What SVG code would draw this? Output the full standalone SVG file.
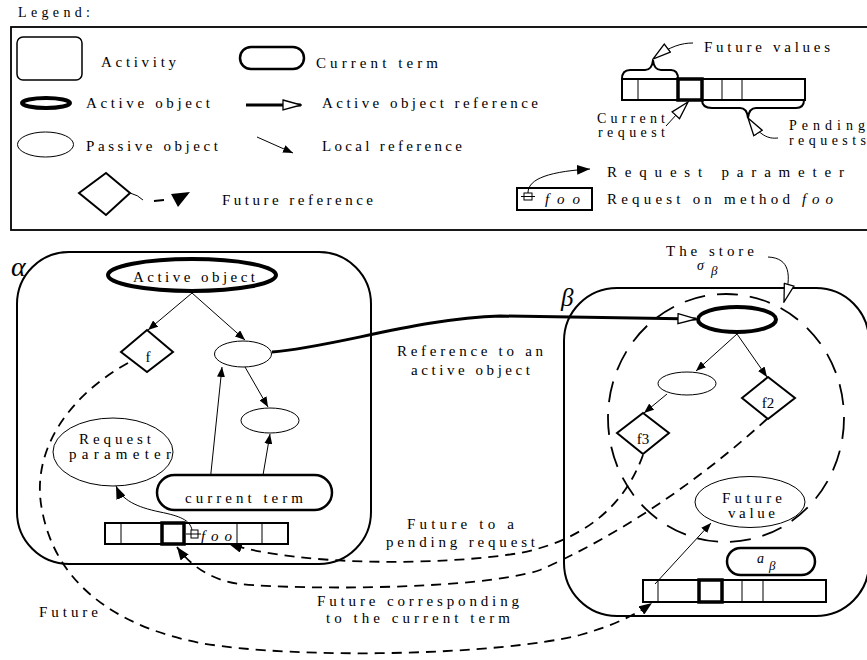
<svg xmlns="http://www.w3.org/2000/svg" width="867" height="660" viewBox="0 0 867 660" font-family="'Liberation Serif', serif">
<style>
.t{font-family:'Liberation Serif',serif;font-size:15px;fill:#000}
.s{font-size:14px}
.it{font-style:italic}
.m{text-anchor:middle}
.ln{fill:none;stroke:#000;stroke-width:1}
.box{fill:none;stroke:#000;stroke-width:2}
.act{fill:#fff;stroke:#000;stroke-width:4}
.pas{fill:#fff;stroke:#000;stroke-width:1}
.dia{fill:#fff;stroke:#000;stroke-width:2}
.cur{fill:#fff;stroke:#000;stroke-width:2.5}
.fut{fill:none;stroke:#000;stroke-width:1.8;stroke-dasharray:10 7}
.brace{fill:none;stroke:#000;stroke-width:2}
</style>
<defs>
<marker id="fa" viewBox="0 0 10 8" refX="10" refY="4" markerWidth="10" markerHeight="8" markerUnits="userSpaceOnUse" orient="auto"><path d="M0,0 L10,4 L0,8 z"/></marker>
<marker id="fh" viewBox="0 0 13 10" refX="13" refY="5" markerWidth="13" markerHeight="10" markerUnits="userSpaceOnUse" orient="auto"><path d="M0,0 L13,5 L0,10 z"/></marker>
<marker id="op" viewBox="0 0 20 12" refX="19" refY="6" markerWidth="20" markerHeight="12" markerUnits="userSpaceOnUse" orient="auto"><path d="M1,1 L19,6 L1,11 z" fill="#fff" stroke="#000" stroke-width="1.3"/></marker>
</defs>

<text class="t s" x="18" y="17" textLength="72" lengthAdjust="spacing">Legend:</text>

<g id="legend">
<rect x="11" y="27" width="860" height="203" fill="none" stroke="#000" stroke-width="1.8"/>
<rect x="17" y="37" width="65" height="43" rx="6" fill="#fff" stroke="#000" stroke-width="1.5"/>
<text class="t" x="101" y="67" textLength="75" lengthAdjust="spacing">Activity</text>
<rect x="240" y="47" width="64" height="22" rx="11" class="cur"/>
<text class="t" x="316" y="68" textLength="122" lengthAdjust="spacing">Current term</text>
<ellipse cx="46" cy="103" rx="24" ry="5" class="act"/>
<text class="t" x="86" y="108" textLength="124" lengthAdjust="spacing">Active object</text>
<path d="M246,105 L301,105" fill="none" stroke="#000" stroke-width="3" marker-end="url(#op)"/>
<text class="t" x="322" y="108" textLength="216" lengthAdjust="spacing">Active object reference</text>
<ellipse cx="45.5" cy="144.5" rx="28" ry="12.5" class="pas"/>
<text class="t" x="86" y="151" textLength="132" lengthAdjust="spacing">Passive object</text>
<path d="M257,137 L293,153" class="ln" marker-end="url(#fa)"/>
<text class="t" x="322" y="151" textLength="140" lengthAdjust="spacing">Local reference</text>
<polygon points="79,193 106,173 130,193 106,215" class="dia"/>
<path d="M130,193 Q138,195 143,200" class="ln" stroke-width="1.5"/>
<path d="M154,201 L164,200" fill="none" stroke="#000" stroke-width="2"/>
<polygon points="171,194 190,192 178,207"/>
<text class="t" x="222" y="205" textLength="151" lengthAdjust="spacing">Future reference</text>

<rect x="622" y="79" width="183" height="21" class="box"/>
<path d="M638,79 V100 M722,79 V100 M742,79 V100" class="ln"/>
<rect x="678" y="79" width="24" height="21" fill="none" stroke="#000" stroke-width="3.5"/>
<path d="M622,79 Q622,70 630,70 L645,70 Q652,70 653,60 Q654,70 661,70 L671,70 Q678,70 678,79" class="brace"/>
<path d="M702,100 Q702,108 712,108 L740,108 Q747,108 748,118 Q749,108 756,108 L796,108 Q804,108 804,100" class="brace"/>
<path d="M693,43 C 682,43 670,46 653,59" class="ln" marker-end="url(#op)"/>
<text class="t" x="704" y="52" textLength="126" lengthAdjust="spacing">Future values</text>
<path d="M666,126 L688,102" class="ln" marker-end="url(#op)"/>
<text class="t s" x="597" y="123" textLength="68" lengthAdjust="spacing">Current</text>
<text class="t s" x="598" y="137" textLength="67" lengthAdjust="spacing">request</text>
<path d="M778,138 C 768,139 760,136 748,118" class="ln" marker-end="url(#op)"/>
<text class="t s" x="789" y="130" textLength="76" lengthAdjust="spacing">Pending</text>
<text class="t s" x="789" y="145" textLength="77" lengthAdjust="spacing">requests</text>

<rect x="517" y="188" width="75" height="22" class="box"/>
<rect x="524" y="193" width="8" height="7" fill="#fff" stroke="#000" stroke-width="1"/>
<path d="M521,196.5 H535" class="ln"/>
<path d="M528,193 C 528,182 540,172 590,169" class="ln" stroke-width="1.3" marker-end="url(#fh)"/>
<text class="t it" x="545" y="204" textLength="35" lengthAdjust="spacing">foo</text>
<text class="t" x="607" y="177" textLength="237" lengthAdjust="spacing">Request parameter</text>
<text class="t" x="607" y="204" textLength="183" lengthAdjust="spacing">Request on method</text>
<text class="t it" x="802" y="204" textLength="31" lengthAdjust="spacing">foo</text>
</g>

<g id="alpha">
<rect x="17" y="252" width="354" height="312" rx="52" class="box"/>
<text class="t it" x="11" y="276" style="font-size:28px">α</text>
</g>

<g id="beta">
<rect x="564" y="288" width="305" height="328" rx="53" class="box"/>
<text class="t it" x="561" y="306" style="font-size:25px">β</text>
</g>

<g id="store">
<ellipse cx="726" cy="418" rx="118" ry="124" fill="none" stroke="#000" stroke-width="1.8" stroke-dasharray="21 12"/>
<text class="t" x="666" y="256" textLength="88" lengthAdjust="spacing">The store</text>
<text class="t it" x="697" y="270" style="font-size:14px">σ</text>
<text class="t it" x="711" y="275" style="font-size:13px">β</text>
</g>

<g id="connectors">
<path d="M192,293 L148,330" class="ln" marker-end="url(#fa)"/>
<path d="M192,293 L245,340" class="ln" marker-end="url(#fa)"/>
<path d="M245,367 L268,407" class="ln" marker-end="url(#fa)"/>
<path d="M210,482 L222,367" class="ln" marker-end="url(#fa)"/>
<path d="M262,481 L270,434" class="ln" marker-end="url(#fa)"/>
<path d="M192,530 C 190,520 180,516 160,512 C 136,507 122,500 116,486" class="ln" marker-end="url(#fh)"/>
<path d="M272,352 C 330,348 420,318 500,316 L 696,319" fill="none" stroke="#000" stroke-width="3" marker-end="url(#op)"/>
<path d="M737,334 L696,371" class="ln" marker-end="url(#fa)"/>
<path d="M737,334 L767,377" class="ln" marker-end="url(#fa)"/>
<path d="M667,394 L644,413" class="ln" marker-end="url(#fa)"/>
<path d="M655,584 L711,523" class="ln" marker-end="url(#fa)"/>
<path d="M768,257 C 790,258 792,275 784,302" class="ln" marker-end="url(#op)"/>
<path d="M128,363 C 70,395 30,450 42,510 C 55,580 110,625 200,643 C 300,660 500,655 580,635 C 615,625 635,615 652,603" class="fut" marker-end="url(#fh)"/>
<path d="M643,455 C 625,505 585,540 520,553 C 440,566 300,566 229,544" class="fut" marker-end="url(#fh)"/>
<path d="M767,419 C 700,480 620,535 540,570 C 480,590 300,590 240,584 C 210,580 190,565 177,547" class="fut" marker-end="url(#fh)"/>
</g>

<g id="alpha-active"><ellipse cx="192" cy="275" rx="84" ry="16" class="act"/>
<text class="t" x="133" y="282" textLength="122" lengthAdjust="spacing">Active object</text></g>
<g id="f"><polygon points="121,352 147,330 173,352 147,372" class="dia"/>
<text class="t m" x="148" y="362">f</text></g>
<g id="alpha-p1"><ellipse cx="243" cy="354" rx="28.5" ry="13" class="pas"/></g>
<g id="alpha-p2"><ellipse cx="270" cy="420.5" rx="29" ry="12.5" class="pas"/></g>
<g id="reqparam"><ellipse cx="113" cy="452" rx="60" ry="34" class="pas"/>
<text class="t" x="79" y="444" textLength="72" lengthAdjust="spacing">Request</text>
<text class="t" x="69" y="459" textLength="102" lengthAdjust="spacing">parameter</text></g>
<g id="alpha-current"><rect x="157" y="475" width="175" height="35" rx="17.5" class="cur"/>
<text class="t" x="185" y="503" textLength="118" lengthAdjust="spacing">current term</text></g>
<g id="alpha-queue">
<rect x="105" y="523" width="183" height="21" class="box"/>
<path d="M121,523 V544 M237,523 V544 M262,523 V544" class="ln"/>
<rect x="162" y="523" width="22" height="21" fill="none" stroke="#000" stroke-width="3.5"/>
<rect x="191" y="530" width="7" height="8" fill="#fff" stroke="#000" stroke-width="1"/>
<path d="M186,534 H201" class="ln"/>
<text class="t it" x="201" y="541" textLength="31" lengthAdjust="spacing">foo</text>
</g>

<g id="beta-active"><ellipse cx="737" cy="319.5" rx="39" ry="12.5" class="act"/></g>
<g id="beta-p"><ellipse cx="687" cy="383.5" rx="29" ry="11.5" class="pas"/></g>
<g id="f2"><polygon points="742,398 768,377 795,398 768,419" class="dia"/>
<text class="t m" x="768" y="408">f2</text></g>
<g id="f3"><polygon points="617,433 643,413 669,433 643,454" class="dia"/>
<text class="t m" x="643" y="444">f3</text></g>
<g id="futurevalue"><ellipse cx="750" cy="502" rx="55" ry="25.5" class="pas"/>
<text class="t" x="722" y="503" textLength="60" lengthAdjust="spacing">Future</text>
<text class="t" x="728" y="518" textLength="47" lengthAdjust="spacing">value</text></g>
<g id="beta-current"><rect x="727" y="548" width="88" height="27" rx="13.5" class="cur"/>
<text class="t it" x="757" y="563" style="font-size:14px">a</text>
<text class="t it" x="769" y="570" style="font-size:13px">β</text></g>
<g id="beta-queue">
<rect x="643" y="580" width="183" height="22" class="box"/>
<path d="M658,580 V602 M742,580 V602 M763,580 V602" class="ln"/>
<rect x="699" y="580" width="23" height="22" fill="none" stroke="#000" stroke-width="3.5"/>
</g>

<g id="labels">
<text class="t" x="397" y="356" textLength="146" lengthAdjust="spacing">Reference to an</text>
<text class="t" x="411" y="375" textLength="119" lengthAdjust="spacing">active object</text>
<text class="t" x="407" y="529" textLength="107" lengthAdjust="spacing">Future to a</text>
<text class="t" x="386" y="547" textLength="149" lengthAdjust="spacing">pending request</text>
<text class="t" x="317" y="606" textLength="202" lengthAdjust="spacing">Future corresponding</text>
<text class="t" x="326" y="623" textLength="184" lengthAdjust="spacing">to the current term</text>
<text class="t" x="39" y="617" textLength="59" lengthAdjust="spacing">Future</text>
</g>
</svg>
